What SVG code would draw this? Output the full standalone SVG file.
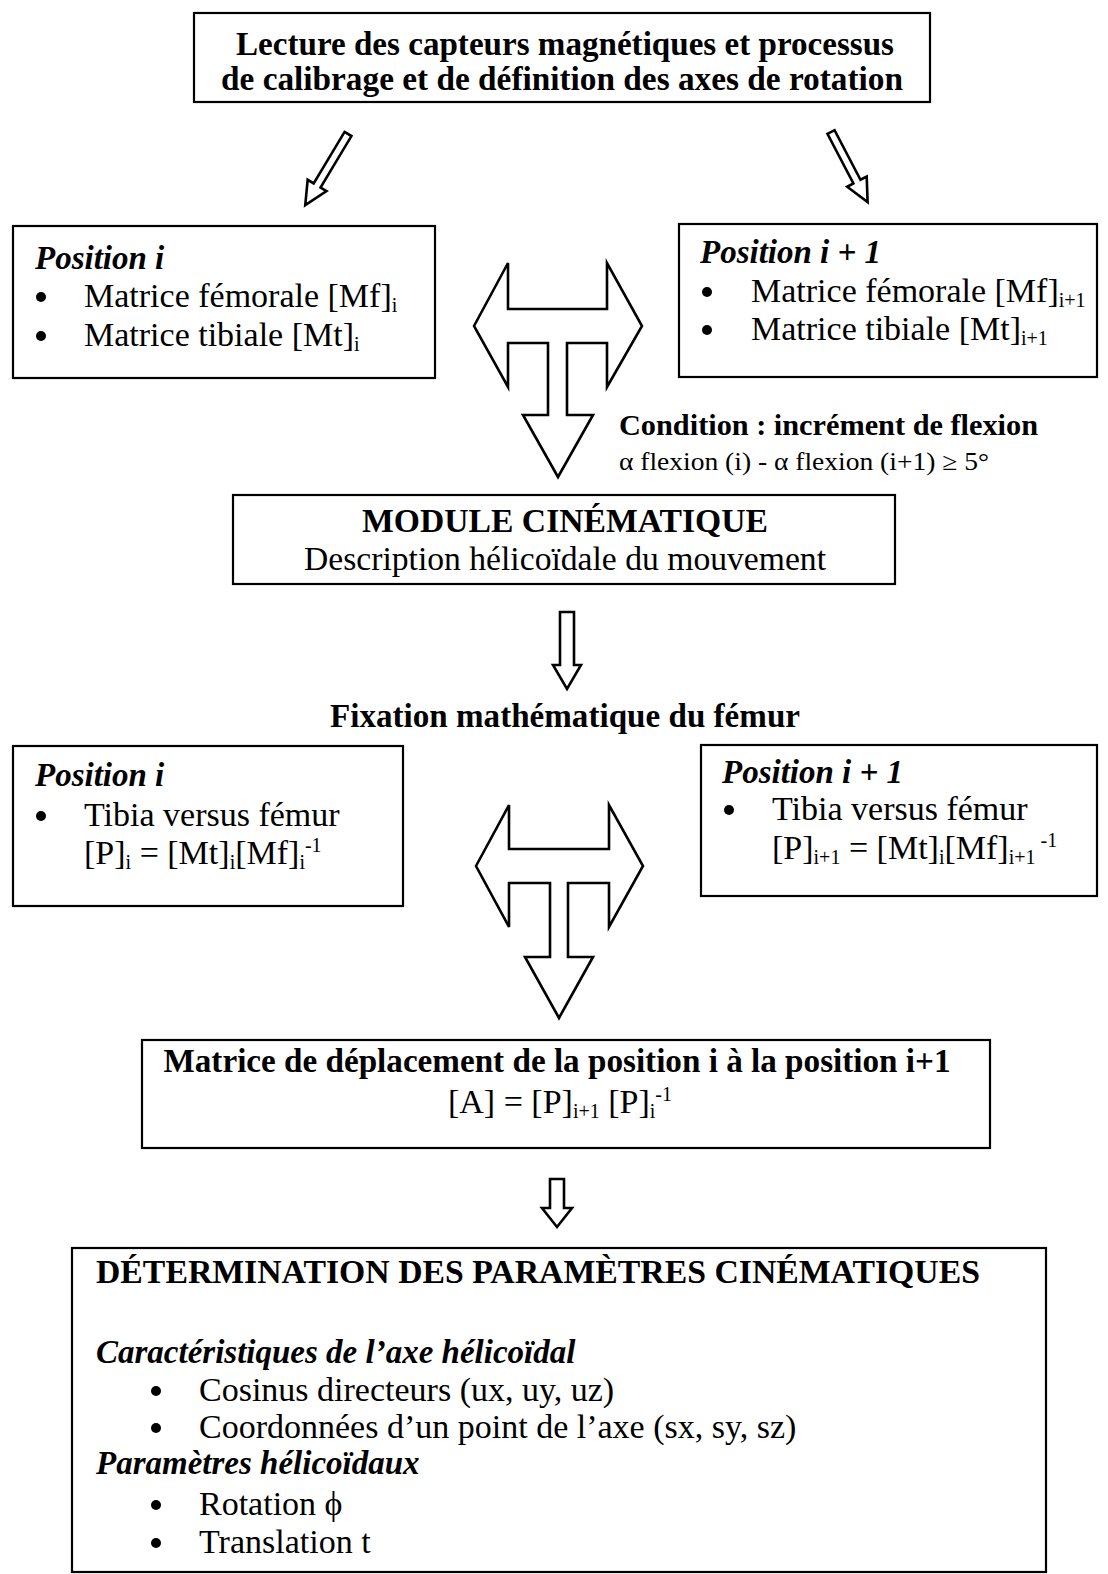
<svg xmlns="http://www.w3.org/2000/svg" width="1108" height="1574" viewBox="0 0 1108 1574">
<style>
.box{fill:none;stroke:#000;stroke-width:2.2}
.arr{fill:#fff;stroke:#000;stroke-width:2.6;stroke-linejoin:miter}
text{font-family:"Liberation Serif","Times New Roman",serif;fill:#000}
.b{font-weight:bold}
.bi{font-weight:bold;font-style:italic}
.r{font-weight:normal}
.dot{fill:#000}
</style>
<rect width="1108" height="1574" fill="#fff"/>

<g id="connectors">
  <polygon class="arr" transform="translate(348,134) rotate(31)" points="-4,0 4,0 4,60 11,60 0,83 -11,60 -4,60"/>
  <polygon class="arr" transform="translate(831,132) rotate(-27.6)" points="-4,0 4,0 4,56 11,56 0,79 -11,56 -4,56"/>
  <polygon class="arr" points="474,326 508,263 508,309 607,309 607,263 642,326 607,387 607,343 567,343 567,415 593,415 558,477 523,415 548,415 548,343 508,343 508,387"/>
  <polygon class="arr" points="560,612 574,612 574,665 581,665 567,689 553,665 560,665"/>
  <polygon class="arr" points="476,866 509,805 509,849 609,849 609,805 643,866 609,927 609,883 568,883 568,957 593,957 559,1018 525,957 550,957 550,883 509,883 509,927"/>
  <polygon class="arr" points="550,1179 564,1179 564,1208 572,1208 557,1227 542,1208 550,1208"/>
</g>

<g id="n-lecture">
  <rect class="box" x="194" y="13" width="736" height="89"/>
  <text class="b" x="565" y="55" font-size="33" text-anchor="middle" textLength="658" lengthAdjust="spacingAndGlyphs">Lecture des capteurs magnétiques et processus</text>
  <text class="b" x="562" y="90" font-size="33" text-anchor="middle" textLength="682" lengthAdjust="spacingAndGlyphs">de calibrage et de définition des axes de rotation</text>
</g>

<g id="n-pos-i-1">
  <rect class="box" x="13" y="226" width="422" height="152"/>
  <text class="bi" x="35" y="269" font-size="33">Position i</text>
  <circle class="dot" cx="41" cy="297" r="5"/>
  <text class="r" x="84" y="307" font-size="34">Matrice fémorale [Mf]<tspan font-size="20" dy="5">i</tspan></text>
  <circle class="dot" cx="41" cy="336" r="5"/>
  <text class="r" x="84" y="346" font-size="34">Matrice tibiale [Mt]<tspan font-size="20" dy="5">i</tspan></text>
</g>

<g id="n-pos-i1-1">
  <rect class="box" x="679" y="224" width="418" height="153"/>
  <text class="bi" x="700" y="263" font-size="33">Position i + 1</text>
  <circle class="dot" cx="707" cy="292" r="5"/>
  <text class="r" x="751" y="302" font-size="34">Matrice fémorale [Mf]<tspan font-size="20" dy="5">i+1</tspan></text>
  <circle class="dot" cx="707" cy="330" r="5"/>
  <text class="r" x="751" y="340" font-size="34">Matrice tibiale [Mt]<tspan font-size="20" dy="5">i+1</tspan></text>
</g>

<g id="n-condition">
  <text class="b" x="619" y="435" font-size="29" textLength="419" lengthAdjust="spacingAndGlyphs">Condition : incrément de flexion</text>
  <text class="r" x="619" y="470" font-size="25" textLength="370" lengthAdjust="spacingAndGlyphs">α flexion (i) - α flexion (i+1) ≥ 5°</text>
</g>

<g id="n-module">
  <rect class="box" x="233" y="495" width="662" height="89"/>
  <text class="b" x="565" y="532" font-size="33" text-anchor="middle" textLength="406" lengthAdjust="spacingAndGlyphs">MODULE CINÉMATIQUE</text>
  <text class="r" x="565" y="570" font-size="33" text-anchor="middle" textLength="522" lengthAdjust="spacingAndGlyphs">Description hélicoïdale du mouvement</text>
</g>

<g id="n-fixation">
  <text class="b" x="565" y="727" font-size="33" text-anchor="middle" textLength="470" lengthAdjust="spacingAndGlyphs">Fixation mathématique du fémur</text>
</g>

<g id="n-pos-i-2">
  <rect class="box" x="13" y="746" width="390" height="160"/>
  <text class="bi" x="35" y="786" font-size="33">Position i</text>
  <circle class="dot" cx="41" cy="816" r="5"/>
  <text class="r" x="84" y="826" font-size="34">Tibia versus fémur</text>
  <text class="r" x="84" y="864" font-size="34">[P]<tspan font-size="20" dy="5">i</tspan><tspan dy="-5"> = [Mt]</tspan><tspan font-size="20" dy="5">i</tspan><tspan dy="-5">[Mf]</tspan><tspan font-size="20" dy="5">i</tspan><tspan font-size="20" dy="-17">-1</tspan></text>
</g>

<g id="n-pos-i1-2">
  <rect class="box" x="701" y="745" width="396" height="151"/>
  <text class="bi" x="722" y="783" font-size="33">Position i + 1</text>
  <circle class="dot" cx="729" cy="810" r="5"/>
  <text class="r" x="772" y="820" font-size="34">Tibia versus fémur</text>
  <text class="r" x="772" y="859" font-size="34">[P]<tspan font-size="20" dy="5">i+1</tspan><tspan dy="-5"> = [Mt]</tspan><tspan font-size="20" dy="5">i</tspan><tspan dy="-5">[Mf]</tspan><tspan font-size="20" dy="5">i+1</tspan><tspan font-size="20" dy="-17"> -1</tspan></text>
</g>

<g id="n-matrice">
  <rect class="box" x="142" y="1040" width="848" height="108"/>
  <text class="b" x="557" y="1072" font-size="33" text-anchor="middle" textLength="787" lengthAdjust="spacingAndGlyphs">Matrice de déplacement de la position i à la position i+1</text>
  <text class="r" x="560" y="1113" font-size="34" text-anchor="middle">[A] =  [P]<tspan font-size="20" dy="5">i+1</tspan><tspan dy="-5">  [P]</tspan><tspan font-size="20" dy="5">i</tspan><tspan font-size="20" dy="-17">-1</tspan></text>
</g>

<g id="n-determination">
  <rect class="box" x="72" y="1248" width="974" height="324"/>
  <text class="b" x="96" y="1283" font-size="34" textLength="884" lengthAdjust="spacingAndGlyphs">DÉTERMINATION DES PARAMÈTRES CINÉMATIQUES</text>
  <text class="bi" x="96" y="1363" font-size="33">Caractéristiques de l’axe hélicoïdal</text>
  <circle class="dot" cx="156" cy="1391" r="5"/>
  <text class="r" x="199" y="1401" font-size="34">Cosinus directeurs (ux, uy, uz)</text>
  <circle class="dot" cx="156" cy="1428" r="5"/>
  <text class="r" x="199" y="1438" font-size="34">Coordonnées d’un point de l’axe (sx, sy, sz)</text>
  <text class="bi" x="96" y="1474" font-size="33">Paramètres hélicoïdaux</text>
  <circle class="dot" cx="156" cy="1505" r="5"/>
  <text class="r" x="199" y="1515" font-size="34">Rotation ϕ</text>
  <circle class="dot" cx="156" cy="1543" r="5"/>
  <text class="r" x="199" y="1553" font-size="34">Translation t</text>
</g>
</svg>
